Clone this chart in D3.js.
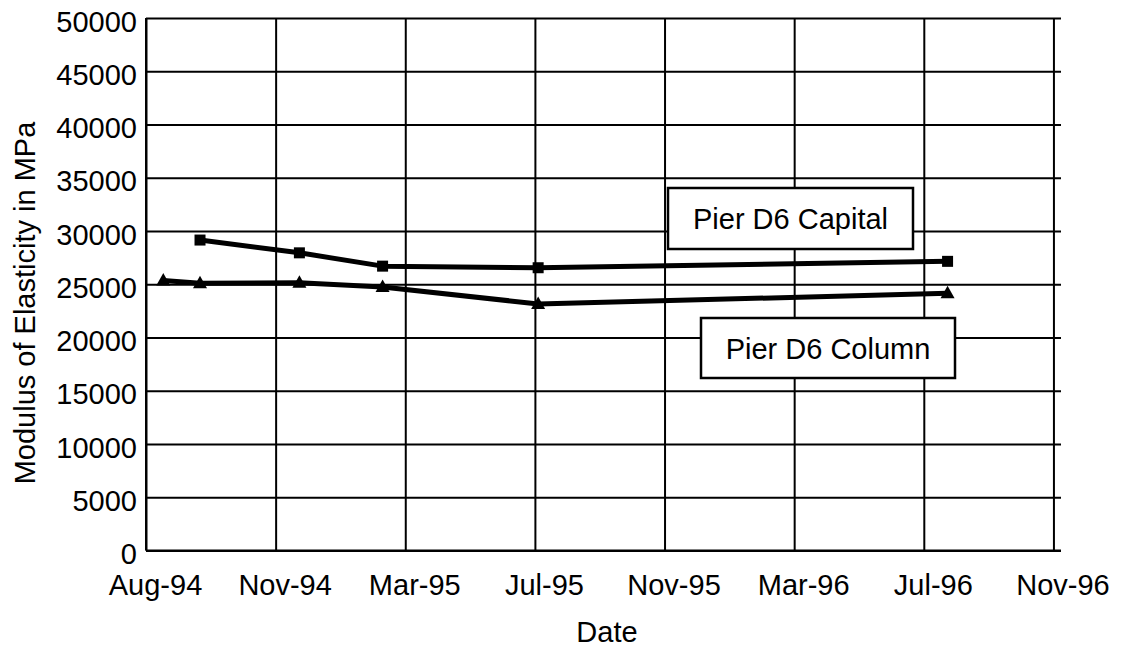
<!DOCTYPE html>
<html>
<head>
<meta charset="utf-8">
<script src="https://cdn.jsdelivr.net/npm/d3@7/dist/d3.min.js"></script>
<style>
  html, body { margin: 0; padding: 0; background: #fff; }
  svg { display: block; }
  text { font-family: "Liberation Sans", Arial, sans-serif; fill: #000; }
</style>
</head>
<body>
<svg id="chart" width="1123" height="648"></svg>
<script>
// ---- data ----
const capitalDates = ["1994-09-20", "1994-12-21", "1995-03-08", "1995-07-30", "1996-08-12"];
const capitalValues = [29150, 27950, 26700, 26550, 27150];
const columnDates = ["1994-08-17", "1994-09-20", "1994-12-21", "1995-03-08", "1995-07-30", "1996-08-12"];
const columnValues = [25350, 25100, 25150, 24750, 23150, 24150];
const xTickLabels = ["Aug-94", "Nov-94", "Mar-95", "Jul-95", "Nov-95", "Mar-96", "Jul-96", "Nov-96"];
const yTicks = [0, 5000, 10000, 15000, 20000, 25000, 30000, 35000, 40000, 45000, 50000];
const seriesNames = ["Pier D6 Capital", "Pier D6 Column"];

(function () {
// ---- layout ----
const svg = d3.select("#chart");
const pLeft = 146, pRight = 1061, pTop = 18, pBottom = 550.5;
const fs = 29;
const parse = d3.utcParse("%Y-%m-%d");
const day = 24 * 3600 * 1000;
const start = parse("1994-08-01");
const tickDates = xTickLabels.map((_, i) => new Date(start.getTime() + i * 120 * day));
const x = d3.scaleUtc().domain([start, new Date(start.getTime() + 847 * day)]).range([pLeft, pRight]);
const y = d3.scaleLinear().domain([0, 50000]).range([pBottom, pTop]);

// horizontal gridlines
const yAxis = d3.axisLeft(y).tickValues(yTicks).tickSize(-(pRight - pLeft)).tickFormat(d3.format("d"));
const gy = svg.append("g").attr("transform", `translate(${pLeft},0)`).call(yAxis);
gy.select(".domain").remove();
gy.selectAll(".tick line").attr("stroke", "#000").attr("stroke-width", 2);
gy.selectAll(".tick text")
  .attr("x", -9).attr("dy", null).attr("y", 13)
  .attr("font-size", fs).attr("font-family", "Liberation Sans, Arial, sans-serif")
  .attr("fill", "#000").attr("text-anchor", "end");

// vertical gridlines
const xAxis = d3.axisBottom(x).tickValues(tickDates).tickSize(-(pBottom - pTop))
  .tickFormat((d, i) => xTickLabels[i]);
const gx = svg.append("g").attr("transform", `translate(0,${pBottom})`).call(xAxis);
gx.select(".domain").remove();
gx.selectAll(".tick line").attr("stroke", "#000").attr("stroke-width", 2);
gx.selectAll(".tick text")
  .attr("x", 9).attr("y", 44.5).attr("dy", null)
  .attr("font-size", fs).attr("font-family", "Liberation Sans, Arial, sans-serif")
  .attr("fill", "#000").attr("text-anchor", "middle");

// axis lines
svg.append("line").attr("x1", pLeft).attr("x2", pLeft).attr("y1", pTop).attr("y2", pBottom)
  .attr("stroke", "#000").attr("stroke-width", 2);
svg.append("line").attr("x1", pLeft).attr("x2", pRight).attr("y1", pBottom).attr("y2", pBottom)
  .attr("stroke", "#000").attr("stroke-width", 2);

// series
const capital = capitalDates.map((d, i) => ({ x: parse(d), y: capitalValues[i] }));
const column = columnDates.map((d, i) => ({ x: parse(d), y: columnValues[i] }));
const line = d3.line().x(d => x(d.x)).y(d => y(d.y));

[capital, column].forEach(s => {
  svg.append("path").datum(s).attr("d", line)
    .attr("fill", "none").attr("stroke", "#000").attr("stroke-width", 5)
    .attr("stroke-linejoin", "round");
});

svg.append("g").selectAll("rect").data(capital).join("rect")
  .attr("x", d => x(d.x) - 5.5).attr("y", d => y(d.y) - 5.5)
  .attr("width", 11).attr("height", 11).attr("fill", "#000");

svg.append("g").selectAll("path").data(column).join("path")
  .attr("d", d => {
    const cx = x(d.x), cy = y(d.y);
    return `M${cx},${cy - 7.5}L${cx + 7},${cy + 5}L${cx - 7},${cy + 5}Z`;
  })
  .attr("fill", "#000");

// series label boxes
const boxes = [
  { name: seriesNames[0], x0: 668, y0: 188, w: 245, h: 61 },
  { name: seriesNames[1], x0: 701, y0: 318, w: 254, h: 60 }
];
boxes.forEach(b => {
  svg.append("rect").attr("x", b.x0).attr("y", b.y0).attr("width", b.w).attr("height", b.h)
    .attr("fill", "#fff").attr("stroke", "#000").attr("stroke-width", 2.5);
  svg.append("text").attr("x", b.x0 + b.w / 2).attr("y", b.y0 + b.h / 2 + 10.5)
    .attr("text-anchor", "middle").attr("font-size", fs).text(b.name);
});

// axis titles
svg.append("text").attr("x", 607).attr("y", 642).attr("text-anchor", "middle")
  .attr("font-size", fs).text("Date");
svg.append("text").attr("transform", "translate(35,303) rotate(-90)")
  .attr("text-anchor", "middle").attr("font-size", fs).text("Modulus of Elasticity in MPa");
})();
</script>
</body>
</html>
